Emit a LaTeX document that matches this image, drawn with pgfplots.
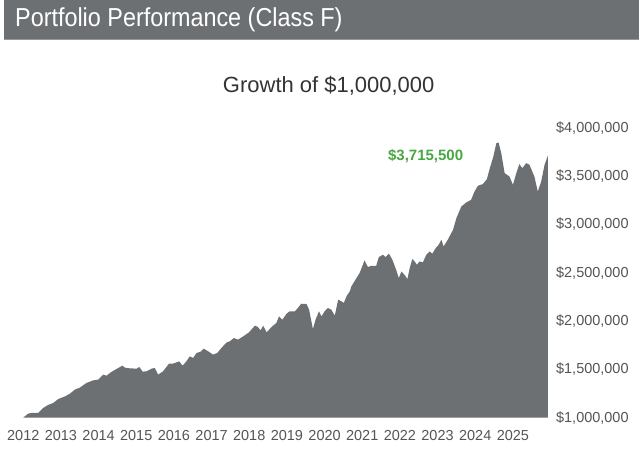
\documentclass[border=0pt]{standalone}
\usepackage{pgfplots}
\pgfplotsset{compat=1.18}
\usepackage{fontspec}
\setmainfont{Liberation Sans}
\newfontfamily\headfont[FakeStretch=0.9]{Liberation Sans}

\definecolor{areagray}{RGB}{109,112,115}
\definecolor{bargray}{RGB}{109,112,115}
\definecolor{barline}{RGB}{150,152,155}
\definecolor{ticktext}{RGB}{85,85,85}
\definecolor{titletext}{RGB}{51,51,51}
\definecolor{valgreen}{RGB}{72,168,66}

\pgfplotstableread{
year value
2012.00 1000000
2012.13 1041000
2012.22 1049000
2012.40 1049000
2012.53 1100000
2012.66 1131000
2012.80 1152000
2012.93 1193000
2013.11 1220000
2013.24 1248000
2013.37 1290000
2013.50 1310000
2013.68 1359000
2013.86 1386000
2013.99 1393000
2014.12 1445000
2014.21 1434000
2014.34 1473000
2014.48 1504000
2014.63 1538000
2014.70 1517000
2014.83 1510000
2015.01 1507000
2015.08 1524000
2015.17 1476000
2015.27 1479000
2015.41 1507000
2015.49 1514000
2015.58 1445000
2015.71 1479000
2015.87 1559000
2015.98 1559000
2016.14 1582000
2016.23 1538000
2016.33 1582000
2016.42 1634000
2016.51 1618000
2016.60 1669000
2016.71 1683000
2016.79 1714000
2016.91 1686000
2017.04 1652000
2017.15 1669000
2017.26 1721000
2017.40 1779000
2017.48 1789000
2017.59 1824000
2017.70 1807000
2017.84 1841000
2017.99 1882000
2018.15 1952000
2018.23 1938000
2018.30 1903000
2018.37 1952000
2018.46 1882000
2018.59 1938000
2018.72 1980000
2018.79 2048000
2018.88 2014000
2018.99 2076000
2019.07 2100000
2019.21 2100000
2019.29 2135000
2019.38 2179000
2019.52 2176000
2019.59 2117000
2019.64 2014000
2019.69 1918000
2019.76 2014000
2019.85 2100000
2019.92 2048000
2020.00 2100000
2020.09 2135000
2020.18 2117000
2020.27 2055000
2020.36 2221000
2020.45 2203000
2020.51 2187000
2020.59 2262000
2020.67 2307000
2020.71 2358000
2020.83 2435000
2020.93 2497000
2021.06 2627000
2021.15 2559000
2021.24 2572000
2021.37 2572000
2021.44 2662000
2021.55 2686000
2021.62 2662000
2021.71 2697000
2021.80 2634000
2021.90 2531000
2021.97 2445000
2022.04 2513000
2022.12 2479000
2022.20 2435000
2022.26 2549000
2022.33 2642000
2022.39 2617000
2022.45 2583000
2022.52 2617000
2022.61 2607000
2022.70 2686000
2022.79 2720000
2022.86 2697000
2022.95 2755000
2023.03 2790000
2023.10 2841000
2023.16 2772000
2023.27 2841000
2023.41 2945000
2023.50 3066000
2023.63 3186000
2023.76 3227000
2023.89 3255000
2023.98 3341000
2024.07 3400000
2024.20 3418000
2024.31 3469000
2024.38 3573000
2024.48 3703000
2024.56 3842000
2024.62 3848000
2024.69 3738000
2024.78 3531000
2024.91 3496000
2025.00 3410000
2025.09 3531000
2025.17 3624000
2025.25 3583000
2025.35 3635000
2025.44 3617000
2025.57 3496000
2025.66 3341000
2025.75 3444000
2025.84 3617000
2025.93 3715500
}\growth

\begin{document}
\begin{tikzpicture}
  % page background and header band
  \fill[white] (0pt,0pt) rectangle (640pt,462pt);
  \fill[bargray] (4pt,422pt) rectangle (640pt,462pt);
  \draw[barline, line width=1.2pt] (4pt,422.4pt) -- (640pt,422.4pt);
  \node[anchor=west, text=white, inner sep=0pt,
        font=\headfont\fontsize{26}{26}\selectfont] at (15pt,442pt) {Portfolio Performance (Class F)};
  \node[text=titletext, inner sep=0pt,
        font=\fontsize{22}{22}\selectfont] at (329pt,376pt) {Growth of \$1,000,000};

  \begin{axis}[
    at={(23.3pt,44pt)}, anchor=south west,
    scale only axis, width=527.8pt, height=290pt,
    xmin=2012, xmax=2026,
    ymin=1000000, ymax=4000000,
    axis line style={draw=none},
    tick style={draw=none},
    xtick={2012,...,2025},
    xticklabels={2012,2013,2014,2015,2016,2017,2018,2019,2020,2021,2022,2023,2024,2025},
    ytick={1000000,1500000,2000000,2500000,3000000,3500000,4000000},
    yticklabels={{\$1,000,000},{\$1,500,000},{\$2,000,000},{\$2,500,000},{\$3,000,000},{\$3,500,000},{\$4,000,000}},
    scaled y ticks=false,
    yticklabel pos=right,
    /pgf/number format/assume math mode=true,
    ticklabel style={font=\fontsize{14.5}{14.5}\selectfont, text=ticktext},
    xticklabel style={anchor=center, yshift=-18pt},
    yticklabel style={anchor=west, xshift=2pt},
    clip=true,
  ]
    \addplot[fill=areagray, draw=none] table[x=year, y=value] {\growth} \closedcycle;
  \end{axis}

  \node[text=valgreen, inner sep=0pt,
        font=\bfseries\fontsize{15}{15}\selectfont] at (426pt,306pt) {\$3,715,500};
\end{tikzpicture}
\end{document}
